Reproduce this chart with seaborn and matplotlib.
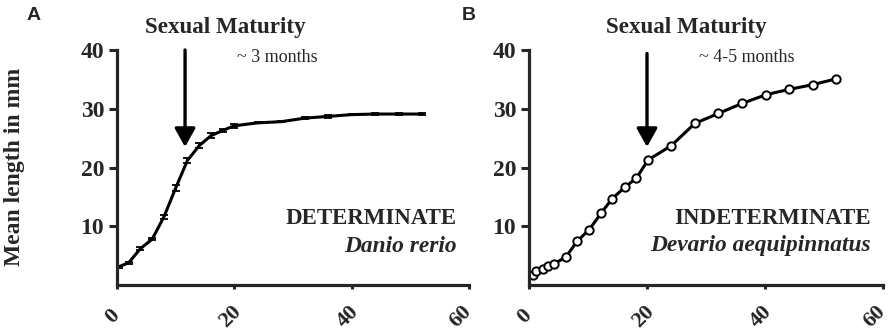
import numpy as np
import matplotlib
matplotlib.use('Agg')
import matplotlib.pyplot as plt
import matplotlib.transforms as mtransforms
import seaborn as sns

# panel A: Danio rerio (determinate growth)
age_a = [0.3, 2, 4, 6, 8, 10, 12, 14, 16, 18, 20, 24, 28, 32, 36, 40, 44, 48, 52]
len_a = [3.1, 3.8, 6.2, 7.8, 11.6, 16.5, 21.2, 23.7, 25.4, 26.3, 27.1,
         27.6, 27.8, 28.4, 28.7, 29.0, 29.1, 29.1, 29.1]
err_a = [0.2, 0.2, 0.2, 0.2, 0.3, 0.5, 0.5, 0.4, 0.4, 0.3, 0.3,
         0.1, 0.1, 0.2, 0.3, 0.1, 0.1, 0.1, 0.1]

# panel B: Devario aequipinnatus (indeterminate growth)
age_b = [0.6, 1.25, 2.3, 3.2, 4.2, 6.2, 8.2, 10.2, 12.2, 14.1, 16.2, 18.2,
         20.2, 24.1, 28.1, 32.1, 36.1, 40.2, 44.1, 48.1, 52.1]
len_b = [1.7, 2.3, 2.8, 3.3, 3.6, 4.7, 7.5, 9.4, 12.2, 14.7, 16.6, 18.2,
         21.3, 23.7, 27.5, 29.2, 30.9, 32.4, 33.3, 34.1, 35.1]

x_ticks = [0, 20, 40, 60]
y_ticks = [10, 20, 30, 40]

panels = [
    dict(letter='A', kind='DETERMINATE', species='Danio rerio', age='~ 3 months',
         arrow_x=11.6, arrow_top=40),
    dict(letter='B', kind='INDETERMINATE', species='Devario aequipinnatus',
         age='~ 4-5 months', arrow_x=20, arrow_top=39.4),
]

sns.set_style('ticks')
plt.rcParams['font.family'] = ['Liberation Serif', 'DejaVu Serif']

W, H = 892, 336
fig = plt.figure(figsize=(W / 100, H / 100), dpi=100)
ax_a = fig.add_axes([117 / W, 1 - 285 / H, 352 / W, 235 / H])
ax_b = fig.add_axes([529 / W, 1 - 285 / H, 354 / W, 235 / H])

sns.lineplot(x=age_a, y=len_a, ax=ax_a, color='black', lw=2.2)
ax_a.errorbar(age_a, len_a, yerr=err_a, fmt='none', ecolor='black',
              elinewidth=1.3, capsize=2.8, capthick=1.3)
sns.lineplot(x=age_b, y=len_b, ax=ax_b, color='black', lw=2.2, marker='o',
             markersize=6, markerfacecolor='white', markeredgecolor='black',
             markeredgewidth=1.4)

shift = mtransforms.ScaledTranslation(-4 / 100, 0, fig.dpi_scale_trans)
shift_edge = mtransforms.ScaledTranslation(-8 / 100, 0, fig.dpi_scale_trans)

for ax, p, text_x, age_x in zip([ax_a, ax_b], panels, [225, 686], [277, 747]):
    ax.set_xlim(0, 60)
    ax.set_ylim(0, 40)
    sns.despine(ax=ax)
    for s in ['left', 'bottom']:
        ax.spines[s].set_linewidth(2.3)
    ax.set_xticks(x_ticks)
    ax.set_yticks(y_ticks)
    ax.set_xticklabels([str(t) for t in x_ticks], rotation=45, ha='center',
                       va='center', rotation_mode='anchor',
                       fontsize=16, fontweight='bold')
    ax.set_yticklabels([str(t) for t in y_ticks], fontsize=17, fontweight='bold')
    ax.tick_params(axis='x', length=3, width=2.2, pad=19.5)
    ax.tick_params(axis='y', length=5.8, width=2.2, pad=3.5)
    labs = ax.get_xticklabels()
    for lab in labs[:-1]:
        lab.set_transform(lab.get_transform() + shift)
    # last label sits at the figure edge, nudge it a bit more
    labs[-1].set_transform(labs[-1].get_transform() + shift_edge)
    ax.set_xlabel('')
    ax.set_ylabel('')

    ax.annotate('', xy=(p['arrow_x'], 23.5), xytext=(p['arrow_x'], p['arrow_top']),
                arrowprops=dict(arrowstyle='-|>,head_width=0.42,head_length=0.75',
                                lw=2.4, color='black', mutation_scale=15,
                                shrinkA=0, shrinkB=0),
                annotation_clip=False)

    fig.text(text_x / W, 1 - 28 / H, 'Sexual Maturity', ha='center', va='center',
             fontsize=16.6, fontweight='bold')
    fig.text(age_x / W, 1 - 57 / H, p['age'], ha='center', va='center',
             fontsize=13)
    ax.text(0.965, (285 - 219) / 235, p['kind'], transform=ax.transAxes,
            ha='right', va='center', fontsize=16.5, fontweight='bold')
    ax.text(0.965, (285 - 246) / 235, p['species'], transform=ax.transAxes,
            ha='right', va='center', fontsize=16.8, fontweight='bold', style='italic')

fig.text(34 / W, 1 - 16 / H, 'A', ha='center', va='center', fontsize=14,
         fontweight='bold', family='Liberation Sans')
fig.text(469 / W, 1 - 15 / H, 'B', ha='center', va='center', fontsize=14,
         fontweight='bold', family='Liberation Sans')

ax_a.set_ylabel('Mean length in mm', fontsize=17, fontweight='bold')
ax_a.yaxis.set_label_coords(-0.261, 0.502)

fig.savefig('out.png', dpi=100, facecolor='white')
